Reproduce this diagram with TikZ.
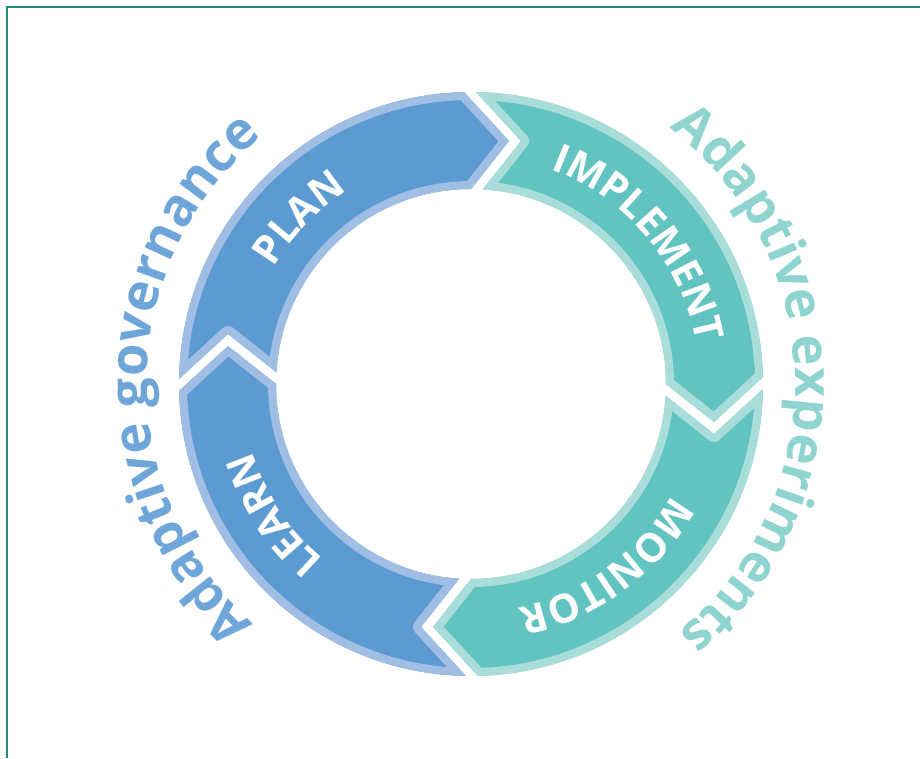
\documentclass[tikz,border=0pt]{standalone}
\usepackage{fontspec}
\setmainfont{Open Sans}
\usetikzlibrary{decorations.text}
\definecolor{bD}{RGB}{91,155,210}
\definecolor{bL}{RGB}{160,190,228}
\definecolor{tD}{RGB}{98,196,193}
\definecolor{tL}{RGB}{169,221,218}
\definecolor{oB}{RGB}{111,166,218}
\definecolor{oT}{RGB}{144,212,208}
\definecolor{frameC}{RGB}{42,138,122}
\def\Ro{292}
\def\Ri{195}
\def\hg{6}
\tikzset{
  arrowpoly/.style={insert path={(0,0) -- (-9.8-\hg,175) -- (44-\hg,243) -- (-19.4-\hg,312) -- (-420,420) -- (-312,-19.4+\hg) -- (-243,44+\hg) -- (-175,-9.8+\hg) -- cycle}},
  annulus/.style={insert path={(\Ro,0) arc[start angle=0,end angle=360,radius=\Ro] -- (\Ri,0) arc[start angle=360,end angle=0,radius=\Ri] -- cycle}},
  labeltext/.style={decorate, decoration={text along path, text align=center, text={|\bfseries\fontsize{40}{40}\selectfont\color{white}|#1}}},
  outertext/.style 2 args={decorate, decoration={text along path, text align=center, text={|\bfseries\fontsize{52.5}{52.5}\selectfont\color{#1}|#2}}}
}
\newcommand\drawarrow[3]{%
  \begin{scope}[shift={(471,374)}, rotate=#1]
    \begin{scope}
      \clip[arrowpoly];
      \clip[annulus];
      \fill[#2] (0,0) circle[radius=320];
      \draw[#3, line width=16, line join=round, arrowpoly];
      \draw[#3, line width=16] (0,0) circle[radius=\Ro] (0,0) circle[radius=\Ri];
    \end{scope}
  \end{scope}}
\begin{document}
\begin{tikzpicture}[x=1pt,y=1pt]
\useasboundingbox (0,0) rectangle (920,758);
\draw[frameC, line width=1.6] (7,0) -- (7,751) -- (920,751);
\coordinate (C) at (471,374);
\drawarrow{0}{bD}{bL}
\drawarrow{-90}{tD}{tL}
\drawarrow{-180}{tD}{tL}
\drawarrow{-270}{bD}{bL}
\begin{scope}[shift={(C)}]
  \path[labeltext=PLAN] (176:229) arc[start angle=176, end angle=96, radius=229];
  \path[labeltext=IMPLEMENT] (85:229) arc[start angle=85, end angle=-5, radius=229];
  \path[labeltext=MONITOR] (-8.5:229) arc[start angle=-8.5, end angle=-98.5, radius=229];
  \path[labeltext=LEARN] (253.5:229) arc[start angle=253.5, end angle=173.5, radius=229];
  \path[outertext={oB}{Adaptive governance}] (254:324) arc[start angle=254, end angle=104, radius=324];
  \path[outertext={oT}{Adaptive experiments}] (76:324) arc[start angle=76, end angle=-74, radius=324];
\end{scope}
\end{tikzpicture}
\end{document}
